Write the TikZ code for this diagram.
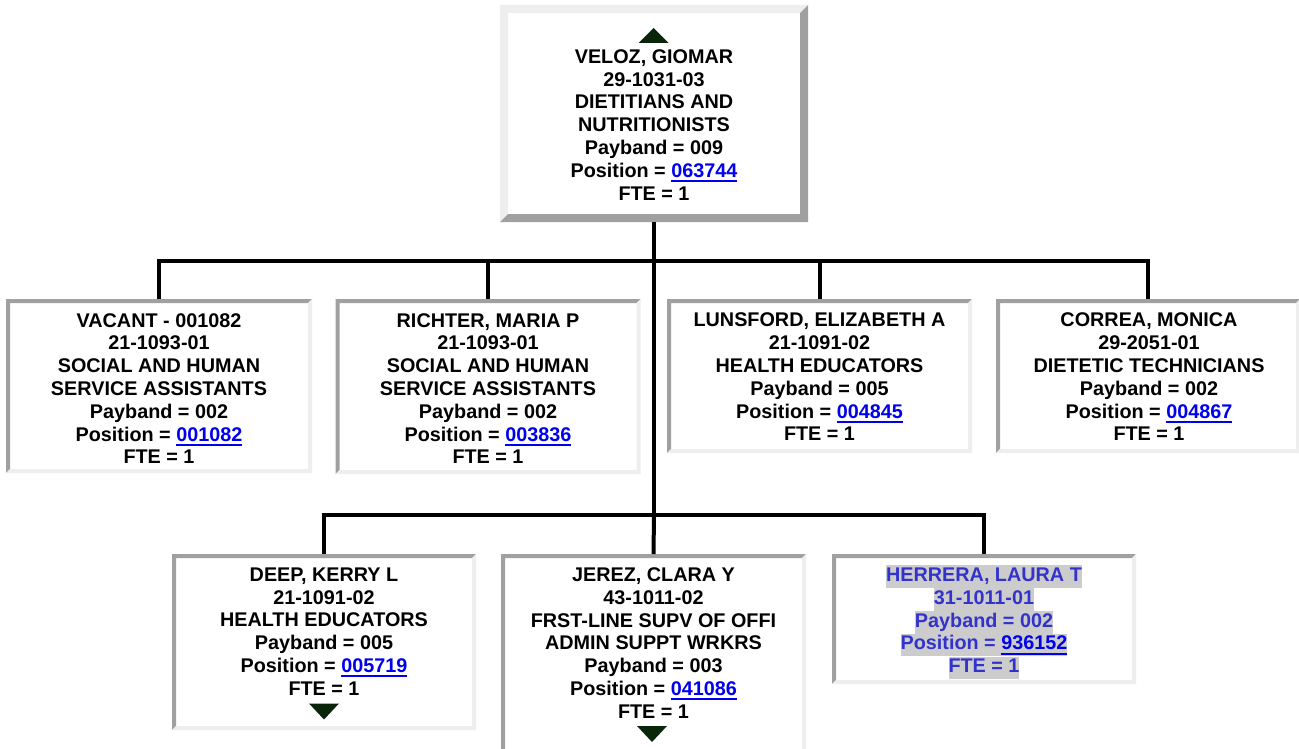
\documentclass[tikz,border=0pt]{standalone}
\usepackage{fontspec}
\setmainfont{Liberation Sans}
\usetikzlibrary{calc}
\definecolor{bvdark}{RGB}{160,160,160}
\definecolor{bvlight}{RGB}{238,238,238}
\definecolor{linkblue}{RGB}{0,0,238}
\definecolor{hlgray}{RGB}{204,204,204}
\definecolor{hltext}{RGB}{51,51,204}
\definecolor{tricol}{RGB}{10,38,10}
\newcommand\poslink[1]{{\color{linkblue}\setbox0\hbox{#1}\rlap{\rule[-4.8pt]{\wd0}{2.2pt}}\box0}}
\newcommand\hlline[1]{{\setlength\fboxsep{0pt}\colorbox{hlgray}{\vrule height 16.2pt depth 6.5pt width 0pt #1}}}
\tikzset{
  bevel/.style n args={3}{path picture={
    \fill[#1] (path picture bounding box.south west) |- (path picture bounding box.north east)
      -- ++(-#3,-#3) -| ($(path picture bounding box.south west)+(#3,#3)$) -- cycle;
    \fill[#2] (path picture bounding box.north east) |- (path picture bounding box.south west)
      -- ++(#3,#3) -| ($(path picture bounding box.north east)+(-#3,-#3)$) -- cycle;
  }},
  box/.style={rectangle, inner sep=0pt, outer sep=0pt, fill=white, draw=none},
  raised/.style={box, bevel={bvlight}{bvdark}{8pt}},
  sunken/.style={box, bevel={bvdark}{bvlight}{4pt}},
  txt/.style={align=center, inner sep=0pt, font=\fontsize{19.8}{22.8}\selectfont\bfseries},
  conn/.style={line width=4pt, black},
  tri/.style={fill=tricol},
}
\begin{document}
\begin{tikzpicture}[x=1pt, y=-1pt]
\useasboundingbox (0,0) rectangle (1299,749);
\clip (0,0) rectangle (1299,749);
\fill[white] (0,0) rectangle (1299,749);

% boxes
\node[raised, minimum width=308pt, minimum height=217pt] (top) at (654,113.5) {};
\node[sunken, minimum width=306pt, minimum height=174pt] (b1) at (159,386) {};
\node[sunken, minimum width=305pt, minimum height=175pt] (b2) at (488,386.5) {};
\node[sunken, minimum width=305pt, minimum height=154pt] (b3) at (819.5,376) {};
\node[sunken, minimum width=304pt, minimum height=154pt] (b4) at (1148,376) {};
\node[sunken, minimum width=304pt, minimum height=176pt] (b5) at (324,642) {};
\node[sunken, minimum width=305pt, minimum height=199pt] (b6) at (653.5,653.5) {};
\node[sunken, minimum width=304pt, minimum height=130pt] (b7) at (984,619) {};

% connectors
\coordinate (j1) at (654,261);
\coordinate (j2) at (654,515);
\draw[conn] (top.south) -- (j2);
\draw[conn] (b1.north) |- (j1) -| (b4.north);
\draw[conn] (b2.north) -- (b2.north |- j1);
\draw[conn] (b3.north) -- (b3.north |- j1);
\draw[conn] (b5.north) |- (j2) -| (b7.north);
\draw[conn] (j2) -- (b6.north);

% texts
\node[txt] (t0) at (654,124.7) {VELOZ, GIOMAR\\29-1031-03\\DIETITIANS AND\\NUTRITIONISTS\\Payband = 009\\Position = \poslink{063744}\\FTE = 1};
\node[txt] (t1) at (159,388.5) {VACANT - 001082\\21-1093-01\\SOCIAL AND HUMAN\\SERVICE ASSISTANTS\\Payband = 002\\Position = \poslink{001082}\\FTE = 1};
\node[txt] (t2) at (488,388.5) {RICHTER, MARIA P\\21-1093-01\\SOCIAL AND HUMAN\\SERVICE ASSISTANTS\\Payband = 002\\Position = \poslink{003836}\\FTE = 1};
\node[txt] (t3) at (819.5,377) {LUNSFORD, ELIZABETH A\\21-1091-02\\HEALTH EDUCATORS\\Payband = 005\\Position = \poslink{004845}\\FTE = 1};
\node[txt] (t4) at (1149,377) {CORREA, MONICA\\29-2051-01\\DIETETIC TECHNICIANS\\Payband = 002\\Position = \poslink{004867}\\FTE = 1};
\node[txt] (t5) at (324,631.5) {DEEP, KERRY L\\21-1091-02\\HEALTH EDUCATORS\\Payband = 005\\Position = \poslink{005719}\\FTE = 1};
\node[txt] (t6) at (653.5,643) {JEREZ, CLARA Y\\43-1011-02\\FRST-LINE SUPV OF OFFI\\ADMIN SUPPT WRKRS\\Payband = 003\\Position = \poslink{041086}\\FTE = 1};
\node[txt, text=hltext] (t7) at (984,622.3) {\hlline{HERRERA, LAURA T}\\\hlline{31-1011-01}\\\hlline{Payband = 002}\\\hlline{Position = \poslink{936152}}\\\hlline{FTE = 1}};

% expand/collapse triangles
\fill[tri] (638.5,43) -- (653.5,28) -- (668.5,43) -- cycle;
\fill[tri] (309,703.5) -- (339,703.5) -- (324,719.5) -- cycle;
\fill[tri] (637,726) -- (667,726) -- (652,742) -- cycle;
\end{tikzpicture}
\end{document}
